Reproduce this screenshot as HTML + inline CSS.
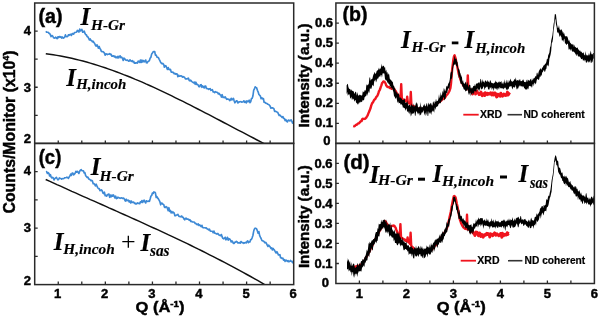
<!DOCTYPE html><html><head><meta charset="utf-8"><style>html,body{margin:0;padding:0;background:#fff;width:600px;height:319px;overflow:hidden}svg{display:block;will-change:transform}</style></head><body>
<svg width="600" height="319" viewBox="0 0 600 319"><style>text{stroke:#000;stroke-width:0.45px;fill:#000}text.s{stroke-width:0.15px}</style>
<polyline fill="none" stroke="#3d89d5" stroke-width="1.65" stroke-linejoin="round"  points="45.9,31.3 46.6,32.2 47.4,32.2 48.1,32.3 48.9,33.3 49.6,33.3 50.4,34.9 51.1,36.6 51.9,35.5 52.6,35.9 53.4,37.5 54.1,38.0 54.9,38.1 55.6,37.2 56.4,38.0 57.1,38.6 57.9,36.8 58.6,37.6 59.4,36.5 60.1,37.2 60.9,36.7 61.6,38.1 62.4,37.0 63.1,38.2 63.9,37.8 64.7,37.2 65.4,34.9 66.2,36.5 66.9,36.7 67.7,36.5 68.4,34.8 69.2,35.3 69.9,34.5 70.7,34.3 71.4,35.5 72.2,33.5 72.9,33.8 73.7,34.2 74.4,32.5 75.2,32.5 75.9,32.3 76.7,31.9 77.4,30.4 78.2,31.2 78.9,32.1 79.7,29.1 80.4,31.0 81.2,30.2 81.9,29.4 82.7,32.2 83.4,31.9 84.2,31.1 84.9,33.3 85.7,34.6 86.4,34.8 87.2,36.6 87.9,36.8 88.7,38.4 89.4,40.0 90.2,38.9 90.9,40.5 91.7,40.6 92.4,41.8 93.2,41.3 93.9,42.5 94.7,43.5 95.4,45.2 96.2,46.2 96.9,44.8 97.7,46.1 98.4,48.2 99.2,46.5 99.9,48.6 100.7,49.6 101.4,51.5 102.2,51.7 102.9,51.5 103.7,52.2 104.4,53.1 105.2,55.2 105.9,53.8 106.7,54.0 107.4,54.6 108.2,54.3 108.9,54.2 109.7,53.5 110.4,54.6 111.2,54.4 111.9,56.2 112.7,56.1 113.4,55.8 114.2,56.8 114.9,56.1 115.7,57.7 116.4,57.0 117.2,57.8 117.9,56.3 118.7,57.9 119.4,56.2 120.2,55.9 120.9,57.6 121.7,57.1 122.4,58.3 123.2,60.4 123.9,58.1 124.7,58.7 125.4,59.9 126.2,60.4 126.9,60.0 127.7,60.1 128.4,61.1 129.2,61.1 129.9,59.8 130.7,60.9 131.4,61.3 132.2,60.6 132.9,62.0 133.7,61.3 134.4,63.2 135.2,62.9 135.9,63.1 136.7,62.6 137.4,63.1 138.2,61.1 138.9,61.5 139.7,62.5 140.4,60.1 141.2,62.5 141.9,60.0 142.7,62.0 143.4,60.5 144.2,61.9 144.9,61.4 145.7,60.0 146.4,62.7 147.2,62.9 147.9,61.5 148.7,61.2 149.4,60.4 150.2,58.0 150.9,57.3 151.7,53.9 152.4,53.0 153.2,51.8 153.9,51.6 154.7,51.5 155.4,55.1 156.2,55.1 156.9,57.1 157.7,57.3 158.4,57.7 159.2,59.3 159.9,60.6 160.7,62.5 161.4,63.1 162.2,63.8 162.9,63.4 163.7,64.4 164.4,67.2 165.2,65.7 165.9,65.9 166.7,67.8 167.4,69.4 168.2,67.6 168.9,69.4 169.7,69.7 170.4,69.3 171.2,72.1 171.9,72.0 172.7,72.5 173.4,72.3 174.2,73.8 174.9,73.4 175.7,74.2 176.4,73.8 177.2,74.0 177.9,76.7 178.7,75.3 179.4,76.2 180.2,76.1 180.9,75.8 181.7,76.0 182.4,77.2 183.2,76.6 183.9,77.0 184.7,77.5 185.4,79.0 186.2,78.9 186.9,79.0 187.7,78.5 188.4,78.1 189.2,80.5 189.9,80.9 190.7,80.2 191.4,81.2 192.2,81.8 192.9,82.3 193.7,82.9 194.4,82.1 195.2,84.3 195.9,82.2 196.7,84.4 197.4,84.4 198.2,85.2 198.9,86.6 199.7,86.7 200.4,84.8 201.2,84.7 201.9,87.3 202.7,85.9 203.4,87.0 204.2,88.0 204.9,86.1 205.7,86.0 206.4,88.5 207.2,88.6 207.9,88.7 208.7,89.4 209.4,88.9 210.2,88.7 210.9,90.3 211.7,90.0 212.4,89.7 213.2,92.0 213.9,91.8 214.7,92.6 215.4,91.6 216.2,92.2 216.9,92.3 217.7,92.7 218.4,94.0 219.2,93.4 219.9,94.7 220.7,95.1 221.4,97.1 222.2,94.7 222.9,97.4 223.7,97.2 224.4,97.7 225.2,96.8 225.9,98.0 226.7,99.3 227.4,98.9 228.2,99.3 228.9,99.2 229.7,100.7 230.4,99.9 231.2,98.3 231.9,100.0 232.7,99.2 233.4,98.3 234.2,101.0 234.9,102.8 235.7,101.8 236.4,100.8 237.2,101.1 237.9,103.0 238.7,102.1 239.4,101.9 240.2,101.7 240.9,101.6 241.7,102.2 242.4,102.0 243.2,101.8 243.9,100.8 244.7,102.3 245.4,101.4 246.2,103.0 246.9,100.8 247.7,101.7 248.4,101.6 249.2,100.2 249.9,102.6 250.7,101.7 251.4,98.8 252.2,98.3 252.9,96.1 253.7,90.1 254.4,89.0 255.2,86.8 255.9,87.4 256.6,87.8 257.4,90.3 258.1,91.8 258.9,94.5 259.6,95.2 260.4,96.1 261.1,98.7 261.9,97.8 262.6,98.9 263.4,98.5 264.1,102.3 264.9,102.4 265.6,103.0 266.4,103.4 267.1,103.5 267.9,104.3 268.6,104.5 269.4,105.2 270.1,106.1 270.9,108.1 271.6,107.9 272.4,107.9 273.1,108.1 273.9,108.7 274.6,111.4 275.4,111.2 276.1,111.6 276.9,112.0 277.6,112.2 278.4,113.9 279.1,115.5 279.9,115.1 280.6,115.9 281.4,116.6 282.1,117.5 282.9,116.6 283.6,118.4 284.4,118.5 285.1,120.6 285.9,119.6 286.6,121.1 287.4,122.0 288.1,120.3 288.9,120.1 289.6,120.8 290.4,120.6 291.1,119.8 291.9,121.4 292.6,123.1 293.4,121.3"/>
<polyline fill="none" stroke="#3d89d5" stroke-width="1.65" stroke-linejoin="round"  points="45.9,171.7 46.6,171.6 47.4,173.4 48.1,172.6 48.9,173.3 49.6,176.0 50.4,174.6 51.1,176.9 51.9,177.9 52.6,177.3 53.4,178.1 54.1,180.0 54.9,178.4 55.6,178.1 56.4,177.4 57.1,178.6 57.9,179.9 58.6,179.5 59.4,177.9 60.1,178.2 60.9,178.5 61.6,179.2 62.4,178.6 63.1,178.7 63.9,178.5 64.7,177.7 65.4,177.7 66.2,177.7 66.9,177.2 67.7,177.5 68.4,178.4 69.2,176.9 69.9,176.0 70.7,174.1 71.4,175.5 72.2,173.0 72.9,173.1 73.7,174.8 74.4,174.2 75.2,173.1 75.9,171.3 76.7,172.1 77.4,171.4 78.2,172.3 78.9,173.5 79.7,171.3 80.4,170.2 81.2,169.6 81.9,170.6 82.7,170.8 83.4,170.8 84.2,172.9 84.9,172.7 85.7,175.7 86.4,176.5 87.2,177.5 87.9,177.1 88.7,178.9 89.4,179.2 90.2,179.8 90.9,180.6 91.7,180.4 92.4,181.0 93.2,183.7 93.9,183.5 94.7,184.5 95.4,185.9 96.2,184.2 96.9,185.9 97.7,187.6 98.4,188.6 99.2,188.6 99.9,190.6 100.7,190.5 101.4,189.9 102.2,190.8 102.9,193.1 103.7,193.6 104.4,192.2 105.2,195.7 105.9,195.3 106.7,196.1 107.4,194.6 108.2,194.7 108.9,194.0 109.7,197.3 110.4,195.0 111.2,196.8 111.9,195.1 112.7,196.2 113.4,194.9 114.2,196.4 114.9,197.9 115.7,196.2 116.4,198.6 117.2,198.2 117.9,197.1 118.7,197.8 119.4,197.9 120.2,198.3 120.9,198.0 121.7,197.8 122.4,198.4 123.2,198.1 123.9,198.3 124.7,199.8 125.4,201.1 126.2,199.2 126.9,200.7 127.7,200.3 128.4,200.2 129.2,202.0 129.9,200.9 130.7,202.9 131.4,201.1 132.2,202.5 132.9,202.2 133.7,202.0 134.4,203.5 135.2,203.1 135.9,204.1 136.7,203.7 137.4,202.8 138.2,203.4 138.9,203.2 139.7,203.7 140.4,201.8 141.2,202.3 141.9,200.6 142.7,202.5 143.4,200.9 144.2,200.2 144.9,201.8 145.7,203.0 146.4,200.8 147.2,201.2 147.9,201.5 148.7,201.0 149.4,201.4 150.2,198.8 150.9,196.2 151.7,195.5 152.4,193.0 153.2,193.5 153.9,191.9 154.7,192.2 155.4,192.9 156.2,197.5 156.9,196.6 157.7,198.1 158.4,198.9 159.2,200.3 159.9,201.7 160.7,204.8 161.4,203.1 162.2,203.3 162.9,204.3 163.7,204.5 164.4,207.0 165.2,207.6 165.9,206.6 166.7,206.9 167.4,208.4 168.2,210.7 168.9,207.7 169.7,211.4 170.4,210.5 171.2,213.0 171.9,211.6 172.7,212.8 173.4,212.2 174.2,213.1 174.9,215.7 175.7,215.7 176.4,215.0 177.2,215.0 177.9,214.4 178.7,216.0 179.4,216.5 180.2,216.6 180.9,216.8 181.7,216.0 182.4,217.2 183.2,217.4 183.9,218.9 184.7,219.8 185.4,218.4 186.2,218.2 186.9,219.2 187.7,219.0 188.4,219.3 189.2,220.2 189.9,219.7 190.7,221.5 191.4,221.2 192.2,221.9 192.9,222.0 193.7,222.0 194.4,222.3 195.2,223.4 195.9,223.4 196.7,224.5 197.4,224.6 198.2,223.8 198.9,225.5 199.7,224.8 200.4,225.9 201.2,226.6 201.9,225.3 202.7,227.5 203.4,227.8 204.2,227.7 204.9,227.8 205.7,228.1 206.4,227.9 207.2,228.9 207.9,229.1 208.7,230.0 209.4,229.2 210.2,230.9 210.9,231.2 211.7,231.3 212.4,231.4 213.2,232.7 213.9,231.0 214.7,233.2 215.4,233.3 216.2,233.7 216.9,234.1 217.7,233.5 218.4,234.1 219.2,235.3 219.9,235.4 220.7,235.6 221.4,234.5 222.2,237.0 222.9,238.3 223.7,238.8 224.4,238.5 225.2,237.3 225.9,239.8 226.7,239.1 227.4,237.3 228.2,240.1 228.9,238.7 229.7,239.1 230.4,240.0 231.2,242.0 231.9,240.9 232.7,241.8 233.4,243.4 234.2,243.5 234.9,242.1 235.7,242.1 236.4,241.3 237.2,241.9 237.9,243.0 238.7,242.9 239.4,242.6 240.2,243.2 240.9,241.5 241.7,242.1 242.4,242.8 243.2,242.7 243.9,243.3 244.7,242.8 245.4,242.3 246.2,242.9 246.9,241.6 247.7,240.9 248.4,242.7 249.2,241.9 249.9,241.9 250.7,239.5 251.4,239.5 252.2,237.6 252.9,235.5 253.7,231.1 254.4,229.0 255.2,228.2 255.9,228.3 256.6,228.8 257.4,231.1 258.1,233.2 258.9,231.6 259.6,235.4 260.4,237.2 261.1,238.5 261.9,240.5 262.6,240.9 263.4,241.0 264.1,241.7 264.9,242.8 265.6,242.3 266.4,243.3 267.1,244.8 267.9,246.5 268.6,245.2 269.4,246.0 270.1,246.8 270.9,248.5 271.6,247.9 272.4,249.9 273.1,248.4 273.9,249.7 274.6,250.4 275.4,252.0 276.1,253.0 276.9,251.6 277.6,253.0 278.4,254.9 279.1,254.8 279.9,254.7 280.6,257.7 281.4,257.9 282.1,258.5 282.9,258.2 283.6,260.1 284.4,259.6 285.1,261.4 285.9,260.1 286.6,260.4 287.4,261.4 288.1,260.6 288.9,261.8 289.6,261.4 290.4,260.4 291.1,261.4 291.9,261.2 292.6,262.7 293.4,261.6"/>
<polyline fill="none" stroke="#111" stroke-width="1.45" stroke-linejoin="round" clip-path="url(#ca)" points="45.8,53.8 49.5,54.3 53.2,54.8 56.9,55.4 60.6,56.0 64.3,56.7 68.0,57.5 71.7,58.3 75.5,59.2 79.2,60.1 82.9,61.0 86.6,62.0 90.3,63.1 94.0,64.2 97.7,65.4 101.4,66.6 105.1,67.8 108.8,69.1 112.5,70.4 116.2,71.7 119.9,73.1 123.6,74.6 127.3,76.0 131.1,77.5 134.8,79.1 138.5,80.6 142.2,82.2 145.9,83.9 149.6,85.5 153.3,87.2 157.0,88.9 160.7,90.6 164.4,92.4 168.1,94.2 171.8,95.9 175.5,97.8 179.2,99.6 183.0,101.4 186.7,103.3 190.4,105.2 194.1,107.1 197.8,109.0 201.5,110.9 205.2,112.8 208.9,114.7 212.6,116.7 216.3,118.6 220.0,120.5 223.7,122.5 227.4,124.4 231.1,126.4 234.8,128.3 238.6,130.3 242.3,132.2 246.0,134.2 249.7,136.1 253.4,138.0 257.1,140.0 260.8,141.9 264.5,143.8"/>
<polyline fill="none" stroke="#111" stroke-width="1.45" stroke-linejoin="round" clip-path="url(#cc)" points="45.7,179.5 49.4,181.2 53.2,182.9 56.9,184.6 60.6,186.2 64.3,187.9 68.1,189.6 71.8,191.3 75.5,192.9 79.2,194.6 83.0,196.3 86.7,197.9 90.4,199.6 94.1,201.2 97.9,202.9 101.6,204.5 105.3,206.2 109.0,207.9 112.8,209.5 116.5,211.2 120.2,212.8 123.9,214.5 127.7,216.2 131.4,217.8 135.1,219.5 138.8,221.2 142.6,222.9 146.3,224.6 150.0,226.3 153.7,228.0 157.5,229.7 161.2,231.4 164.9,233.1 168.6,234.9 172.4,236.6 176.1,238.4 179.8,240.1 183.5,241.9 187.3,243.7 191.0,245.5 194.7,247.3 198.4,249.2 202.2,251.0 205.9,252.9 209.6,254.8 213.3,256.6 217.1,258.6 220.8,260.5 224.5,262.4 228.2,264.4 232.0,266.4 235.7,268.3 239.4,270.4 243.1,272.4 246.9,274.5 250.6,276.5 254.3,278.6 258.0,280.7 261.8,282.9 265.5,285.1"/>
<polyline fill="none" stroke="#f0141e" stroke-width="2.4" stroke-linejoin="round"  points="353.2,126.0 353.8,126.2 354.4,126.2 355.0,125.9 355.6,125.1 356.2,124.8 356.8,124.8 357.4,124.1 358.0,123.5 358.6,123.4 359.2,123.1 359.8,122.3 360.4,121.7 361.0,121.2 361.6,121.0 362.2,119.2 362.8,118.8 363.4,118.9 364.0,119.0 364.6,118.7 365.2,118.9 365.8,118.1 366.4,117.5 367.0,116.2 367.6,115.5 368.2,113.9 368.8,112.4 369.4,111.1 370.0,109.5 370.6,108.0 371.2,105.6 371.8,104.1 372.4,102.8 373.0,102.4 373.6,101.0 374.2,99.9 374.8,99.3 375.4,98.9 376.0,97.5 376.6,96.6 377.2,96.1 377.8,94.7 378.4,93.2 379.0,91.2 379.6,90.3 380.2,88.8 380.8,86.9 381.4,85.4 382.0,83.2 382.6,82.7 383.2,81.6 383.8,81.4 384.4,81.8 385.0,82.5 385.6,83.5 386.2,85.4 386.8,86.2 387.4,86.8 388.0,87.0 388.6,87.3 389.2,87.0 389.8,88.0 390.4,87.9 391.0,88.3 391.6,88.7 392.2,88.3 392.8,88.0 393.4,88.4 394.0,88.7 394.6,89.6 395.2,90.6 395.8,91.1 396.4,92.7 397.0,93.3 397.6,94.6 398.2,95.2 398.8,95.7 399.4,96.3 400.0,96.7 400.6,97.1 401.2,84.1 401.8,98.1 402.4,99.0 403.0,99.5 403.6,99.8 404.2,100.0 404.8,100.1 405.4,101.0 406.0,101.0 406.6,101.4 407.2,96.6 407.8,102.2 408.4,102.5 409.0,103.1 409.6,103.3 410.2,104.0 410.8,92.0 411.4,105.0 412.0,105.3 412.6,105.9 413.2,106.3 413.8,106.2 414.4,106.7 415.0,107.4 415.6,107.6 416.2,107.9 416.8,108.5 417.4,108.2 418.0,108.6 418.6,108.7 419.2,109.3 419.8,108.5 420.4,108.8 421.0,108.9 421.6,109.2 422.2,109.1 422.8,109.3 423.4,108.5 424.0,109.1 424.6,108.8 425.2,108.7 425.8,109.0 426.4,108.6 427.0,108.2 427.6,108.6 428.2,108.3 428.8,108.4 429.4,108.7 430.0,108.6 430.6,108.8 431.2,108.1 431.8,107.5 432.4,107.3 433.0,106.8 433.6,106.2 434.2,106.1 434.8,105.3 435.4,104.4 436.0,104.5 436.6,103.8 437.2,103.4 437.8,102.9 438.4,102.6 439.0,102.1 439.6,101.9 440.2,101.3 440.8,100.9 441.4,100.5 442.0,99.5 442.6,99.4 443.2,98.9 443.8,98.5 444.4,97.5 445.0,97.7 445.6,96.7 446.2,95.7 446.8,94.8 447.4,94.4 448.0,93.6 448.6,92.5 449.2,91.5 449.8,89.8 450.4,88.2 451.0,83.7 451.6,76.3 452.2,69.0 452.8,64.5 453.4,59.4 454.0,56.4 454.6,55.3 455.2,57.1 455.8,59.4 456.4,62.4 457.0,65.3 457.6,68.2 458.2,71.3 458.8,74.2 459.4,75.8 460.0,77.8 460.6,79.8 461.2,81.5 461.8,82.8 462.4,83.6 463.0,84.9 463.6,86.0 464.2,86.6 464.8,87.0 465.4,87.3 466.0,88.2 466.6,88.2 467.2,88.4 467.8,75.4 468.4,89.6 469.0,89.6 469.6,90.1 470.2,89.6 470.8,91.4 471.4,90.0"/>
<polyline fill="none" stroke="#f0141e" stroke-width="2.9" stroke-linejoin="round"  points="470.2,89.6 470.8,91.4 471.4,90.0 472.0,90.9 472.6,94.1 473.2,92.5 473.8,91.4 474.4,92.1 475.0,92.8 475.6,94.0 476.2,92.2 476.8,90.9 477.4,92.6 478.0,93.0 478.6,93.2 479.2,94.6 479.8,93.6 480.4,94.2 481.0,92.1 481.6,94.4 482.2,95.7 482.8,94.3 483.4,93.8 484.0,93.7 484.6,95.6 485.2,92.6 485.8,93.6 486.4,94.2 487.0,94.6 487.6,93.3 488.2,94.2 488.8,93.6 489.4,94.0 490.0,93.8 490.6,92.7 491.2,94.0 491.8,95.0 492.4,93.0 493.0,93.9 493.6,94.9 494.2,93.0 494.8,94.5 495.4,93.1 496.0,95.6 496.6,96.9 497.2,96.6 497.8,94.2 498.4,95.3 499.0,94.6 499.6,94.6 500.2,96.3 500.8,93.1 501.4,95.8 502.0,94.6 502.6,96.2 503.2,94.9 503.8,93.9 504.4,95.0 505.0,95.5 505.6,94.7 506.2,95.2 506.8,94.1 507.4,92.1 508.0,95.1 508.6,94.3 509.2,93.2 509.8,92.5"/>
<polyline fill="none" stroke="#f0141e" stroke-width="2.4" stroke-linejoin="round"  points="350.6,267.8 351.2,267.4 351.8,267.3 352.4,267.4 353.0,267.6 353.6,266.9 354.2,267.4 354.8,266.8 355.4,266.5 356.0,267.0 356.6,266.4 357.2,265.9 357.8,265.9 358.4,266.0 359.0,265.8 359.6,265.2 360.2,265.1 360.8,264.9 361.4,264.2 362.0,264.0 362.6,263.3 363.2,262.4 363.8,261.5 364.4,260.7 365.0,259.6 365.6,258.4 366.2,257.2 366.8,256.5 367.4,255.1 368.0,254.2 368.6,253.2 369.2,251.9 369.8,251.1 370.4,249.1 371.0,248.3 371.6,246.7 372.2,245.9 372.8,244.6 373.4,242.4 374.0,241.4 374.6,240.6 375.2,239.4 375.8,238.2 376.4,236.9 377.0,235.9 377.6,234.8 378.2,233.6 378.8,232.7 379.4,230.8 380.0,230.5 380.6,229.0 381.2,228.4 381.8,227.0 382.4,225.8 383.0,224.8 383.6,223.1 384.2,221.8 384.8,221.0 385.4,221.4 386.0,222.1 386.6,223.1 387.2,223.9 387.8,225.2 388.4,225.8 389.0,226.4 389.6,226.6 390.2,226.7 390.8,226.2 391.4,226.1 392.0,226.0 392.6,225.9 393.2,225.5 393.8,226.0 394.4,225.8 395.0,226.8 395.6,227.7 396.2,229.5 396.8,231.1 397.4,232.3 398.0,234.0 398.6,234.4 399.2,235.5 399.8,236.0 400.4,224.1 401.0,236.9 401.6,237.7 402.2,238.1 402.8,238.6 403.4,239.0 404.0,239.1 404.6,240.0 405.2,239.8 405.8,240.8 406.4,240.8 407.0,241.2 407.6,237.4 408.2,242.2 408.8,242.4 409.4,242.9 410.0,243.8 410.6,232.7 411.2,245.4 411.8,246.8 412.4,246.8 413.0,247.9 413.6,248.0 414.2,248.9 414.8,249.3 415.4,249.9 416.0,250.5 416.6,251.3 417.2,251.4 417.8,251.8 418.4,251.8 419.0,252.5 419.6,252.4 420.2,252.7 420.8,252.5 421.4,252.9 422.0,251.9 422.6,252.3 423.2,252.5 423.8,252.1 424.4,251.9 425.0,251.9 425.6,251.4 426.2,251.7 426.8,252.1 427.4,251.6 428.0,250.9 428.6,250.7 429.2,250.7 429.8,250.8 430.4,250.1 431.0,249.8 431.6,249.8 432.2,249.3 432.8,248.4 433.4,247.6 434.0,246.8 434.6,246.3 435.2,245.1 435.8,245.1 436.4,243.9 437.0,243.3 437.6,242.8 438.2,241.7 438.8,240.3 439.4,239.9 440.0,239.2 440.6,237.9 441.2,237.1 441.8,236.6 442.4,235.4 443.0,235.4 443.6,233.6 444.2,233.1 444.8,232.3 445.4,231.3 446.0,230.3 446.6,229.0 447.2,227.4 447.8,225.8 448.4,222.4 449.0,220.1 449.6,217.0 450.2,214.4 450.8,211.7 451.4,208.2 452.0,204.8 452.6,201.7 453.2,198.7 453.8,196.3 454.4,196.0 455.0,196.6 455.6,197.5 456.2,200.5 456.8,203.8 457.4,206.1 458.0,209.4 458.6,213.0 459.2,216.4 459.8,219.3 460.4,221.0 461.0,223.0 461.6,224.2 462.2,225.5 462.8,226.4 463.4,227.5 464.0,227.8 464.6,228.3 465.2,228.8 465.8,228.9 466.4,229.1 467.0,214.8 467.6,229.2 468.2,229.3 468.8,229.5 469.4,229.9 470.0,228.8 470.6,231.8 471.2,230.9 471.8,230.6"/>
<polyline fill="none" stroke="#f0141e" stroke-width="2.9" stroke-linejoin="round"  points="470.0,228.8 470.6,231.8 471.2,230.9 471.8,230.6 472.4,231.6 473.0,232.0 473.6,233.5 474.2,233.1 474.8,235.5 475.4,233.6 476.0,232.0 476.6,233.7 477.2,232.3 477.8,234.5 478.4,235.7 479.0,235.2 479.6,233.0 480.2,233.7 480.8,236.5 481.4,234.9 482.0,234.5 482.6,235.7 483.2,237.2 483.8,235.9 484.4,234.7 485.0,234.9 485.6,235.2 486.2,233.8 486.8,233.3 487.4,234.6 488.0,233.5 488.6,234.4 489.2,234.6 489.8,237.1 490.4,233.6 491.0,234.4 491.6,234.3 492.2,235.0 492.8,235.7 493.4,234.0 494.0,233.6 494.6,232.8 495.2,233.7 495.8,235.3 496.4,234.9 497.0,233.8 497.6,234.6 498.2,235.2 498.8,235.8 499.4,234.7 500.0,235.1 500.6,233.4 501.2,234.2 501.8,237.3 502.4,233.1 503.0,235.1 503.6,235.7 504.2,234.9 504.8,234.4 505.4,235.1 506.0,235.0 506.6,234.8 507.2,232.7 507.8,234.4 508.4,233.4 509.0,233.6"/>
<polygon fill="#000" points="346.6,85.4 347.2,84.3 347.8,83.7 348.4,87.0 349.0,88.4 349.6,89.1 350.2,89.0 350.8,90.8 351.4,89.2 352.0,90.9 352.6,90.7 353.2,91.0 353.8,91.7 354.4,94.0 355.0,92.4 355.6,91.6 356.2,92.5 356.8,95.8 357.4,92.0 358.0,95.0 358.6,95.8 359.2,95.2 359.8,94.5 360.4,95.1 361.0,95.4 361.6,95.4 362.2,95.3 362.8,91.2 363.4,91.7 364.0,92.4 364.6,90.2 365.2,90.2 365.8,90.7 366.4,83.9 367.0,85.8 367.6,84.8 368.2,84.8 368.8,83.4 369.4,78.1 370.0,77.1 370.6,80.8 371.2,79.4 371.8,79.0 372.4,78.8 373.0,75.9 373.6,74.3 374.2,73.3 374.8,71.8 375.4,74.1 376.0,73.4 376.6,71.2 377.2,70.2 377.8,70.5 378.4,69.2 379.0,67.4 379.6,69.8 380.2,68.6 380.8,68.4 381.4,63.5 382.0,67.4 382.6,65.8 383.2,66.1 383.8,65.5 384.4,68.1 385.0,66.5 385.6,71.6 386.2,69.6 386.8,72.8 387.4,72.0 388.0,75.2 388.6,73.3 389.2,74.4 389.8,78.8 390.4,79.6 391.0,79.9 391.6,80.8 392.2,81.8 392.8,81.8 393.4,85.5 394.0,85.8 394.6,87.7 395.2,88.8 395.8,91.8 396.4,91.4 397.0,93.3 397.6,93.5 398.2,94.3 398.8,92.9 399.4,96.8 400.0,98.1 400.6,97.2 401.2,98.1 401.8,99.0 402.4,99.9 403.0,100.0 403.6,100.1 404.2,97.9 404.8,99.7 405.4,103.0 406.0,102.5 406.6,102.2 407.2,103.5 407.8,100.0 408.4,106.3 409.0,105.1 409.6,104.9 410.2,105.0 410.8,107.0 411.4,103.1 412.0,105.7 412.6,104.9 413.2,106.7 413.8,103.3 414.4,106.5 415.0,106.2 415.6,104.4 416.2,102.0 416.8,103.6 417.4,103.5 418.0,107.0 418.6,107.7 419.2,106.2 419.8,107.6 420.4,102.1 421.0,107.9 421.6,106.3 422.2,107.3 422.8,107.2 423.4,104.4 424.0,106.5 424.6,103.4 425.2,105.7 425.8,106.4 426.4,103.7 427.0,102.9 427.6,106.9 428.2,104.3 428.8,102.5 429.4,104.4 430.0,104.6 430.6,102.8 431.2,103.3 431.8,105.3 432.4,105.8 433.0,101.6 433.6,101.7 434.2,104.3 434.8,101.1 435.4,102.2 436.0,98.5 436.6,101.6 437.2,101.1 437.8,100.7 438.4,98.9 439.0,94.1 439.6,98.5 440.2,96.6 440.8,92.1 441.4,95.7 442.0,94.9 442.6,90.6 443.2,93.0 443.8,88.1 444.4,89.1 445.0,91.6 445.6,90.2 446.2,87.1 446.8,85.7 447.4,86.8 448.0,84.4 448.6,83.0 449.2,82.3 449.8,79.3 450.4,73.7 451.0,71.4 451.6,71.9 452.2,67.4 452.8,64.2 453.4,61.6 454.0,59.4 454.6,55.3 455.2,58.2 455.8,59.2 456.4,58.4 457.0,61.6 457.6,62.5 458.2,68.3 458.8,68.7 459.4,69.7 460.0,72.4 460.6,73.7 461.2,77.4 461.8,74.8 462.4,82.1 463.0,80.0 463.6,82.9 464.2,83.8 464.8,83.5 465.4,82.3 466.0,81.6 466.6,85.4 467.2,81.6 467.8,84.1 468.4,87.6 469.0,84.4 469.6,85.1 470.2,85.0 470.8,88.5 471.4,88.6 472.0,87.1 472.6,88.5 473.2,85.8 473.8,86.3 474.4,86.1 475.0,83.6 475.6,86.4 476.2,83.5 476.8,83.4 477.4,83.4 478.0,83.1 478.6,82.4 479.2,81.9 479.8,83.7 480.4,78.8 481.0,79.2 481.6,83.5 482.2,78.9 482.8,81.8 483.4,82.1 484.0,80.5 484.6,83.3 485.2,80.6 485.8,80.5 486.4,81.4 487.0,82.3 487.6,79.7 488.2,82.0 488.8,81.3 489.4,83.1 490.0,80.3 490.6,80.6 491.2,82.5 491.8,83.0 492.4,83.0 493.0,83.5 493.6,83.5 494.2,82.6 494.8,83.1 495.4,80.2 496.0,82.5 496.6,81.4 497.2,83.1 497.8,82.4 498.4,81.4 499.0,82.9 499.6,81.3 500.2,82.3 500.8,81.8 501.4,80.9 502.0,84.3 502.6,83.0 503.2,81.5 503.8,84.4 504.4,79.1 505.0,83.5 505.6,82.9 506.2,79.6 506.8,82.5 507.4,82.8 508.0,79.4 508.6,83.0 509.2,81.5 509.8,80.5 510.4,78.4 511.0,80.4 511.6,81.2 512.2,81.7 512.8,81.6 513.4,80.9 514.0,80.2 514.6,78.8 515.2,79.9 515.8,77.3 516.4,80.9 517.0,80.2 517.6,80.2 518.2,79.7 518.8,81.1 519.4,80.0 520.0,78.7 520.6,81.2 521.2,81.0 521.8,81.2 522.4,79.4 523.0,81.3 523.6,78.9 524.2,82.1 524.8,81.9 525.4,81.8 526.0,82.4 526.6,80.1 527.2,79.5 527.8,82.1 528.4,79.8 529.0,80.3 529.6,81.1 530.2,79.6 530.8,78.7 531.4,81.4 532.0,78.0 532.6,80.6 533.2,79.2 533.8,77.9 534.4,78.2 535.0,77.1 535.6,76.0 536.2,76.6 536.8,72.7 537.4,72.7 538.0,75.2 538.6,71.9 539.2,70.5 539.8,69.4 540.4,68.0 541.0,69.5 541.6,69.5 542.2,67.3 542.8,67.8 543.4,65.4 544.0,65.5 544.6,64.8 545.2,63.7 545.8,63.4 546.4,61.7 547.0,58.4 547.6,59.4 548.2,55.3 548.8,54.0 549.4,52.4 550.0,47.4 550.6,46.1 551.2,40.5 551.8,38.1 552.4,35.3 553.0,30.0 553.6,24.0 554.2,21.0 554.8,14.2 555.4,14.1 556.0,14.8 556.6,20.4 557.2,25.1 557.8,28.0 558.4,27.7 559.0,24.9 559.6,29.4 560.2,29.4 560.8,30.5 561.4,29.1 562.0,30.5 562.6,31.8 563.2,34.2 563.8,31.8 564.4,33.9 565.0,36.3 565.6,36.2 566.2,36.6 566.8,36.1 567.4,36.7 568.0,38.4 568.6,40.9 569.2,40.0 569.8,41.9 570.4,43.0 571.0,43.4 571.6,44.5 572.2,43.7 572.8,45.1 573.4,44.2 574.0,47.4 574.6,44.6 575.2,47.5 575.8,46.7 576.4,48.0 577.0,47.9 577.6,47.3 578.2,49.5 578.8,49.6 579.4,51.2 580.0,49.9 580.6,51.7 581.2,51.6 581.8,52.2 582.4,53.0 583.0,53.3 583.6,52.1 584.2,55.2 584.8,55.1 585.4,51.0 586.0,56.0 586.6,54.6 587.2,55.0 587.8,55.8 588.4,55.3 589.0,52.7 589.6,55.8 590.2,52.9 590.8,50.6 591.4,54.1 592.0,54.5 592.6,54.3 593.2,53.1 593.8,53.1 593.8,59.1 593.2,58.2 592.6,61.5 592.0,62.5 591.4,63.1 590.8,59.5 590.2,63.0 589.6,62.0 589.0,60.9 588.4,63.1 587.8,60.6 587.2,62.2 586.6,62.6 586.0,62.8 585.4,60.2 584.8,59.6 584.2,61.5 583.6,60.0 583.0,60.7 582.4,58.4 581.8,59.1 581.2,59.2 580.6,57.8 580.0,57.1 579.4,56.4 578.8,55.9 578.2,57.1 577.6,55.1 577.0,53.7 576.4,56.2 575.8,54.6 575.2,53.6 574.6,52.5 574.0,52.1 573.4,51.4 572.8,51.3 572.2,51.9 571.6,49.9 571.0,48.4 570.4,50.9 569.8,48.5 569.2,49.7 568.6,49.4 568.0,44.3 567.4,43.5 566.8,44.6 566.2,44.9 565.6,43.3 565.0,43.7 564.4,38.6 563.8,39.7 563.2,42.0 562.6,39.8 562.0,41.0 561.4,36.9 560.8,36.3 560.2,35.1 559.6,37.3 559.0,34.3 558.4,32.6 557.8,32.6 557.2,32.6 556.6,26.7 556.0,24.4 555.4,18.5 554.8,20.9 554.2,26.8 553.6,30.3 553.0,38.4 552.4,42.2 551.8,42.8 551.2,51.1 550.6,54.4 550.0,57.0 549.4,58.8 548.8,65.0 548.2,66.4 547.6,65.6 547.0,64.4 546.4,68.8 545.8,69.3 545.2,71.4 544.6,71.9 544.0,70.1 543.4,70.4 542.8,72.0 542.2,72.4 541.6,76.1 541.0,75.0 540.4,77.0 539.8,76.5 539.2,79.3 538.6,79.9 538.0,79.5 537.4,78.8 536.8,79.7 536.2,82.9 535.6,84.5 535.0,82.7 534.4,82.8 533.8,86.4 533.2,83.4 532.6,84.7 532.0,88.1 531.4,86.4 530.8,86.0 530.2,86.5 529.6,85.9 529.0,85.8 528.4,89.0 527.8,89.6 527.2,88.1 526.6,89.7 526.0,89.5 525.4,89.6 524.8,88.5 524.2,88.2 523.6,85.9 523.0,87.5 522.4,86.2 521.8,86.1 521.2,86.7 520.6,85.3 520.0,86.9 519.4,85.2 518.8,86.6 518.2,88.5 517.6,88.3 517.0,89.8 516.4,88.6 515.8,84.7 515.2,87.0 514.6,87.6 514.0,87.4 513.4,86.7 512.8,88.3 512.2,89.5 511.6,86.5 511.0,86.0 510.4,86.4 509.8,86.6 509.2,86.8 508.6,89.6 508.0,88.4 507.4,89.9 506.8,90.1 506.2,89.2 505.6,87.3 505.0,88.8 504.4,87.5 503.8,88.6 503.2,89.4 502.6,88.1 502.0,88.7 501.4,88.0 500.8,88.5 500.2,87.7 499.6,87.0 499.0,89.8 498.4,87.6 497.8,90.6 497.2,87.7 496.6,90.0 496.0,87.8 495.4,89.2 494.8,87.6 494.2,88.8 493.6,91.2 493.0,87.7 492.4,88.6 491.8,90.0 491.2,87.0 490.6,88.5 490.0,86.7 489.4,89.8 488.8,88.9 488.2,90.0 487.6,86.3 487.0,87.4 486.4,86.5 485.8,87.4 485.2,88.0 484.6,90.2 484.0,87.1 483.4,86.2 482.8,88.8 482.2,88.4 481.6,89.7 481.0,88.5 480.4,86.5 479.8,91.5 479.2,88.9 478.6,89.6 478.0,91.0 477.4,88.2 476.8,89.0 476.2,92.4 475.6,91.2 475.0,91.2 474.4,91.0 473.8,94.8 473.2,92.4 472.6,93.0 472.0,94.8 471.4,93.4 470.8,96.6 470.2,91.3 469.6,95.2 469.0,92.6 468.4,95.3 467.8,88.6 467.2,90.8 466.6,90.7 466.0,90.8 465.4,91.8 464.8,89.2 464.2,89.9 463.6,88.9 463.0,86.8 462.4,86.6 461.8,83.7 461.2,84.0 460.6,83.7 460.0,81.1 459.4,76.2 458.8,78.2 458.2,72.6 457.6,69.0 457.0,66.3 456.4,66.0 455.8,64.9 455.2,63.5 454.6,64.7 454.0,64.9 453.4,66.1 452.8,70.2 452.2,76.9 451.6,79.5 451.0,78.4 450.4,81.4 449.8,86.4 449.2,89.9 448.6,88.1 448.0,89.0 447.4,91.9 446.8,93.8 446.2,92.4 445.6,98.3 445.0,99.4 444.4,100.5 443.8,97.0 443.2,97.7 442.6,99.9 442.0,101.0 441.4,100.3 440.8,103.7 440.2,102.6 439.6,103.3 439.0,103.4 438.4,104.4 437.8,106.8 437.2,106.1 436.6,106.9 436.0,107.3 435.4,109.9 434.8,107.2 434.2,112.8 433.6,111.6 433.0,110.2 432.4,111.6 431.8,111.8 431.2,115.1 430.6,113.3 430.0,112.0 429.4,114.0 428.8,111.1 428.2,115.9 427.6,116.0 427.0,110.8 426.4,115.4 425.8,112.2 425.2,116.1 424.6,114.4 424.0,112.9 423.4,110.1 422.8,111.9 422.2,112.7 421.6,112.5 421.0,115.0 420.4,115.3 419.8,112.8 419.2,115.9 418.6,112.4 418.0,114.5 417.4,112.7 416.8,112.1 416.2,110.7 415.6,115.4 415.0,115.9 414.4,111.2 413.8,113.9 413.2,112.7 412.6,114.2 412.0,113.0 411.4,115.3 410.8,116.4 410.2,111.9 409.6,114.6 409.0,110.4 408.4,113.4 407.8,111.0 407.2,112.2 406.6,108.6 406.0,108.7 405.4,110.9 404.8,107.9 404.2,108.2 403.6,107.2 403.0,107.9 402.4,105.4 401.8,104.4 401.2,104.2 400.6,104.8 400.0,103.0 399.4,103.0 398.8,103.4 398.2,101.3 397.6,102.9 397.0,100.2 396.4,97.0 395.8,99.0 395.2,98.0 394.6,96.8 394.0,96.1 393.4,92.1 392.8,90.3 392.2,88.3 391.6,87.6 391.0,89.2 390.4,86.1 389.8,85.8 389.2,83.9 388.6,84.1 388.0,82.2 387.4,82.9 386.8,80.0 386.2,81.0 385.6,80.0 385.0,79.0 384.4,73.7 383.8,73.1 383.2,73.7 382.6,73.3 382.0,77.8 381.4,75.1 380.8,74.8 380.2,76.7 379.6,76.6 379.0,76.4 378.4,78.0 377.8,79.4 377.2,78.1 376.6,81.0 376.0,82.6 375.4,79.5 374.8,80.6 374.2,81.6 373.6,86.6 373.0,85.4 372.4,84.7 371.8,87.3 371.2,89.1 370.6,89.0 370.0,87.5 369.4,92.5 368.8,92.9 368.2,90.8 367.6,96.0 367.0,93.3 366.4,95.4 365.8,96.3 365.2,96.5 364.6,97.3 364.0,100.5 363.4,100.2 362.8,99.7 362.2,101.4 361.6,102.2 361.0,101.5 360.4,101.9 359.8,103.6 359.2,101.8 358.6,103.4 358.0,104.8 357.4,104.1 356.8,102.4 356.2,103.4 355.6,99.9 355.0,100.3 354.4,101.8 353.8,99.6 353.2,98.7 352.6,98.5 352.0,100.6 351.4,96.6 350.8,98.6 350.2,98.2 349.6,94.8 349.0,94.0 348.4,94.7 347.8,95.7 347.2,91.8 346.6,94.5"/>
<polygon fill="#000" points="347.0,257.4 347.6,262.0 348.2,259.0 348.8,260.6 349.4,263.0 350.0,260.4 350.6,265.9 351.2,262.0 351.8,266.0 352.4,265.5 353.0,264.1 353.6,263.5 354.2,264.0 354.8,267.5 355.4,268.1 356.0,266.8 356.6,267.1 357.2,262.7 357.8,264.5 358.4,265.8 359.0,264.7 359.6,262.4 360.2,265.2 360.8,261.7 361.4,261.1 362.0,261.1 362.6,259.1 363.2,259.6 363.8,259.7 364.4,257.4 365.0,256.4 365.6,255.4 366.2,253.1 366.8,249.5 367.4,251.4 368.0,248.5 368.6,242.9 369.2,244.0 369.8,241.4 370.4,243.2 371.0,242.5 371.6,240.4 372.2,240.5 372.8,240.1 373.4,238.9 374.0,239.0 374.6,238.1 375.2,234.3 375.8,232.2 376.4,232.0 377.0,232.1 377.6,228.0 378.2,229.1 378.8,223.6 379.4,224.5 380.0,223.9 380.6,223.9 381.2,219.5 381.8,222.2 382.4,222.1 383.0,219.6 383.6,220.6 384.2,219.2 384.8,220.0 385.4,222.6 386.0,219.2 386.6,222.2 387.2,226.0 387.8,223.1 388.4,224.8 389.0,224.3 389.6,224.7 390.2,222.3 390.8,228.7 391.4,224.1 392.0,228.5 392.6,230.2 393.2,230.8 393.8,231.9 394.4,229.2 395.0,232.2 395.6,234.3 396.2,231.9 396.8,234.3 397.4,231.9 398.0,234.4 398.6,233.2 399.2,232.7 399.8,236.4 400.4,237.0 401.0,238.2 401.6,239.5 402.2,240.6 402.8,236.6 403.4,242.0 404.0,240.4 404.6,242.5 405.2,242.8 405.8,242.9 406.4,241.3 407.0,245.4 407.6,245.6 408.2,244.9 408.8,245.8 409.4,247.8 410.0,246.5 410.6,247.2 411.2,245.5 411.8,247.6 412.4,247.8 413.0,248.3 413.6,249.7 414.2,248.3 414.8,247.3 415.4,249.1 416.0,245.3 416.6,248.6 417.2,248.2 417.8,247.5 418.4,246.1 419.0,246.5 419.6,249.0 420.2,245.6 420.8,249.1 421.4,247.8 422.0,246.0 422.6,249.1 423.2,248.1 423.8,250.1 424.4,248.4 425.0,248.6 425.6,248.8 426.2,248.0 426.8,245.3 427.4,247.2 428.0,246.2 428.6,247.4 429.2,247.7 429.8,243.9 430.4,247.8 431.0,242.8 431.6,245.0 432.2,245.4 432.8,243.9 433.4,242.5 434.0,242.6 434.6,241.1 435.2,239.0 435.8,240.4 436.4,239.5 437.0,238.4 437.6,238.8 438.2,238.4 438.8,237.6 439.4,234.3 440.0,237.6 440.6,235.3 441.2,232.9 441.8,234.8 442.4,231.1 443.0,232.4 443.6,232.6 444.2,230.2 444.8,228.8 445.4,228.5 446.0,226.6 446.6,221.4 447.2,224.0 447.8,222.6 448.4,218.9 449.0,218.9 449.6,217.8 450.2,214.2 450.8,211.5 451.4,206.1 452.0,205.7 452.6,204.3 453.2,197.3 453.8,196.8 454.4,197.0 455.0,196.4 455.6,198.9 456.2,203.1 456.8,204.0 457.4,206.2 458.0,206.5 458.6,213.2 459.2,209.5 459.8,212.4 460.4,215.8 461.0,216.2 461.6,215.4 462.2,218.0 462.8,219.4 463.4,218.0 464.0,220.4 464.6,220.0 465.2,222.1 465.8,220.4 466.4,222.5 467.0,223.1 467.6,221.4 468.2,225.0 468.8,224.4 469.4,225.5 470.0,224.7 470.6,224.9 471.2,224.1 471.8,226.7 472.4,227.2 473.0,225.0 473.6,223.0 474.2,223.6 474.8,223.7 475.4,222.8 476.0,218.9 476.6,222.1 477.2,220.2 477.8,219.5 478.4,217.2 479.0,219.4 479.6,219.0 480.2,218.0 480.8,218.3 481.4,218.0 482.0,218.4 482.6,217.8 483.2,221.1 483.8,220.3 484.4,219.3 485.0,220.5 485.6,221.4 486.2,218.0 486.8,221.2 487.4,220.5 488.0,219.0 488.6,221.3 489.2,222.6 489.8,221.7 490.4,220.7 491.0,221.9 491.6,218.0 492.2,220.7 492.8,221.6 493.4,219.3 494.0,222.4 494.6,222.6 495.2,219.3 495.8,221.6 496.4,221.3 497.0,221.2 497.6,221.4 498.2,220.4 498.8,222.0 499.4,222.6 500.0,222.0 500.6,222.4 501.2,221.0 501.8,220.7 502.4,220.5 503.0,221.3 503.6,219.2 504.2,221.1 504.8,219.3 505.4,222.2 506.0,220.7 506.6,221.4 507.2,219.3 507.8,220.9 508.4,220.6 509.0,218.2 509.6,220.6 510.2,220.4 510.8,219.0 511.4,220.2 512.0,219.8 512.6,217.1 513.2,221.0 513.8,220.6 514.4,218.2 515.0,220.7 515.6,219.6 516.2,217.5 516.8,218.6 517.4,217.3 518.0,217.7 518.6,216.6 519.2,218.4 519.8,219.4 520.4,216.0 521.0,216.3 521.6,219.7 522.2,219.5 522.8,219.2 523.4,220.4 524.0,218.8 524.6,219.5 525.2,218.7 525.8,220.2 526.4,221.1 527.0,220.5 527.6,222.2 528.2,221.0 528.8,219.5 529.4,220.6 530.0,222.2 530.6,219.6 531.2,217.6 531.8,219.6 532.4,220.5 533.0,220.0 533.6,220.9 534.2,219.4 534.8,217.1 535.4,216.5 536.0,217.3 536.6,213.0 537.2,215.4 537.8,213.7 538.4,213.7 539.0,212.5 539.6,211.3 540.2,207.5 540.8,208.7 541.4,206.8 542.0,206.1 542.6,205.9 543.2,208.3 543.8,204.8 544.4,206.1 545.0,204.7 545.6,205.0 546.2,200.0 546.8,199.1 547.4,200.3 548.0,196.9 548.6,195.4 549.2,196.1 549.8,192.5 550.4,190.1 551.0,185.7 551.6,180.5 552.2,177.2 552.8,174.3 553.4,168.5 554.0,162.0 554.6,158.2 555.2,155.8 555.8,155.2 556.4,157.0 557.0,159.7 557.6,160.9 558.2,161.3 558.8,167.3 559.4,167.8 560.0,167.8 560.6,170.0 561.2,172.2 561.8,173.2 562.4,172.2 563.0,176.0 563.6,176.8 564.2,175.2 564.8,177.2 565.4,175.8 566.0,178.1 566.6,175.5 567.2,178.6 567.8,177.6 568.4,180.0 569.0,182.4 569.6,181.9 570.2,180.8 570.8,183.5 571.4,184.1 572.0,185.4 572.6,185.1 573.2,186.4 573.8,187.4 574.4,185.9 575.0,187.9 575.6,185.8 576.2,187.0 576.8,189.2 577.4,188.6 578.0,191.3 578.6,191.4 579.2,190.0 579.8,191.4 580.4,194.6 581.0,191.9 581.6,194.5 582.2,195.4 582.8,195.5 583.4,195.5 584.0,195.5 584.6,196.6 585.2,197.4 585.8,193.7 586.4,193.1 587.0,197.1 587.6,197.9 588.2,197.4 588.8,199.7 589.4,199.0 590.0,197.3 590.6,199.8 591.2,196.5 591.8,196.8 592.4,197.5 593.0,199.1 593.6,196.2 594.2,195.1 594.2,200.3 593.6,205.4 593.0,203.8 592.4,202.5 591.8,204.8 591.2,204.3 590.6,207.0 590.0,204.5 589.4,204.4 588.8,204.8 588.2,203.9 587.6,202.7 587.0,202.2 586.4,204.8 585.8,202.6 585.2,202.7 584.6,204.2 584.0,201.6 583.4,200.3 582.8,204.0 582.2,203.6 581.6,200.7 581.0,202.4 580.4,199.7 579.8,199.3 579.2,199.7 578.6,196.7 578.0,200.6 577.4,195.8 576.8,195.9 576.2,197.0 575.6,196.0 575.0,193.1 574.4,194.5 573.8,193.5 573.2,192.0 572.6,190.2 572.0,190.9 571.4,189.6 570.8,189.5 570.2,188.4 569.6,187.1 569.0,187.3 568.4,186.9 567.8,186.0 567.2,185.1 566.6,183.6 566.0,186.5 565.4,182.5 564.8,184.3 564.2,183.9 563.6,183.1 563.0,180.9 562.4,180.9 561.8,177.9 561.2,178.4 560.6,176.6 560.0,174.6 559.4,174.6 558.8,172.9 558.2,171.9 557.6,167.2 557.0,164.9 556.4,165.5 555.8,160.0 555.2,161.4 554.6,162.3 554.0,170.0 553.4,175.4 552.8,178.6 552.2,183.4 551.6,191.4 551.0,194.0 550.4,196.8 549.8,197.9 549.2,201.0 548.6,204.4 548.0,206.4 547.4,206.9 546.8,207.6 546.2,211.6 545.6,210.7 545.0,211.1 544.4,211.5 543.8,214.0 543.2,215.6 542.6,212.6 542.0,213.2 541.4,215.2 540.8,219.1 540.2,215.2 539.6,216.0 539.0,219.2 538.4,220.4 537.8,221.2 537.2,222.2 536.6,220.0 536.0,225.9 535.4,223.3 534.8,225.0 534.2,225.2 533.6,229.1 533.0,225.4 532.4,226.3 531.8,226.1 531.2,228.1 530.6,227.9 530.0,228.5 529.4,225.5 528.8,227.4 528.2,228.0 527.6,227.1 527.0,225.9 526.4,226.3 525.8,224.5 525.2,224.6 524.6,224.5 524.0,225.8 523.4,226.0 522.8,223.5 522.2,223.8 521.6,224.5 521.0,223.6 520.4,222.2 519.8,223.6 519.2,224.0 518.6,227.0 518.0,227.6 517.4,225.1 516.8,223.2 516.2,224.5 515.6,225.9 515.0,226.9 514.4,227.0 513.8,228.3 513.2,226.8 512.6,227.8 512.0,225.0 511.4,225.9 510.8,228.1 510.2,228.3 509.6,226.1 509.0,225.1 508.4,225.0 507.8,225.5 507.2,227.4 506.6,226.2 506.0,226.4 505.4,231.0 504.8,228.8 504.2,225.8 503.6,228.8 503.0,226.2 502.4,225.9 501.8,226.7 501.2,227.7 500.6,226.6 500.0,227.3 499.4,227.0 498.8,226.0 498.2,227.8 497.6,227.7 497.0,227.4 496.4,225.9 495.8,226.9 495.2,228.8 494.6,227.1 494.0,226.8 493.4,227.6 492.8,227.2 492.2,227.7 491.6,225.7 491.0,226.6 490.4,226.2 489.8,229.5 489.2,226.6 488.6,226.7 488.0,225.9 487.4,226.3 486.8,225.7 486.2,225.6 485.6,225.8 485.0,225.8 484.4,224.9 483.8,226.4 483.2,228.9 482.6,223.2 482.0,226.0 481.4,224.1 480.8,226.7 480.2,224.0 479.6,225.2 479.0,224.1 478.4,227.4 477.8,223.6 477.2,227.6 476.6,226.2 476.0,226.3 475.4,227.2 474.8,229.3 474.2,228.0 473.6,233.7 473.0,230.7 472.4,234.1 471.8,233.7 471.2,231.4 470.6,234.2 470.0,234.5 469.4,232.8 468.8,231.1 468.2,229.6 467.6,231.9 467.0,227.8 466.4,228.3 465.8,229.0 465.2,227.3 464.6,224.9 464.0,228.2 463.4,224.8 462.8,223.7 462.2,223.4 461.6,220.9 461.0,222.2 460.4,221.1 459.8,218.8 459.2,218.9 458.6,218.7 458.0,214.2 457.4,212.4 456.8,210.3 456.2,209.8 455.6,204.7 455.0,201.6 454.4,201.4 453.8,203.7 453.2,205.2 452.6,210.0 452.0,212.3 451.4,216.2 450.8,217.3 450.2,219.9 449.6,223.0 449.0,227.4 448.4,225.7 447.8,227.7 447.2,232.0 446.6,232.2 446.0,233.2 445.4,234.1 444.8,236.2 444.2,236.1 443.6,239.4 443.0,239.5 442.4,242.6 441.8,242.8 441.2,240.8 440.6,242.9 440.0,242.9 439.4,241.7 438.8,245.1 438.2,244.2 437.6,247.4 437.0,247.6 436.4,244.2 435.8,245.5 435.2,248.1 434.6,249.7 434.0,251.9 433.4,248.3 432.8,250.4 432.2,253.3 431.6,251.6 431.0,253.2 430.4,254.7 429.8,254.1 429.2,254.9 428.6,253.2 428.0,253.9 427.4,257.4 426.8,254.5 426.2,253.9 425.6,256.7 425.0,257.4 424.4,258.1 423.8,258.6 423.2,254.2 422.6,258.2 422.0,257.2 421.4,255.7 420.8,256.4 420.2,254.0 419.6,253.9 419.0,255.3 418.4,257.3 417.8,254.5 417.2,256.0 416.6,256.8 416.0,256.0 415.4,256.5 414.8,253.6 414.2,258.4 413.6,258.4 413.0,257.4 412.4,253.6 411.8,256.7 411.2,253.7 410.6,253.6 410.0,254.4 409.4,253.2 408.8,255.3 408.2,251.1 407.6,251.7 407.0,250.0 406.4,249.7 405.8,248.9 405.2,249.1 404.6,249.7 404.0,250.5 403.4,249.6 402.8,245.7 402.2,245.2 401.6,245.4 401.0,244.6 400.4,246.8 399.8,244.5 399.2,242.8 398.6,243.6 398.0,244.7 397.4,245.5 396.8,244.4 396.2,243.0 395.6,243.0 395.0,243.0 394.4,239.3 393.8,241.6 393.2,237.5 392.6,237.4 392.0,237.7 391.4,236.4 390.8,235.5 390.2,235.4 389.6,236.9 389.0,234.6 388.4,231.7 387.8,231.4 387.2,233.8 386.6,230.9 386.0,233.2 385.4,232.1 384.8,229.2 384.2,227.6 383.6,227.0 383.0,229.1 382.4,227.8 381.8,230.7 381.2,228.5 380.6,231.8 380.0,230.9 379.4,236.5 378.8,236.2 378.2,236.3 377.6,241.0 377.0,240.8 376.4,243.6 375.8,241.2 375.2,242.4 374.6,244.1 374.0,244.7 373.4,245.2 372.8,250.0 372.2,250.5 371.6,247.6 371.0,250.2 370.4,253.0 369.8,252.4 369.2,257.3 368.6,256.0 368.0,255.2 367.4,259.9 366.8,260.9 366.2,260.0 365.6,263.5 365.0,261.8 364.4,267.3 363.8,265.3 363.2,266.5 362.6,267.1 362.0,268.0 361.4,271.4 360.8,271.6 360.2,270.7 359.6,271.7 359.0,270.8 358.4,272.2 357.8,273.7 357.2,277.0 356.6,273.4 356.0,273.9 355.4,273.6 354.8,277.9 354.2,273.8 353.6,277.7 353.0,271.8 352.4,272.5 351.8,275.9 351.2,271.7 350.6,272.5 350.0,270.1 349.4,270.5 348.8,271.6 348.2,268.6 347.6,269.2 347.0,269.4"/>
<defs><clipPath id="ca"><rect x="34" y="3" width="260" height="140.4"/></clipPath><clipPath id="cc"><rect x="34" y="143.4" width="260" height="141.2"/></clipPath></defs>
<rect x="34.7" y="3.0" width="259.00" height="140.40" fill="none" stroke="#2a2a2a" stroke-width="1.5"/>
<rect x="34.7" y="143.4" width="259.00" height="141.20" fill="none" stroke="#2a2a2a" stroke-width="1.5"/>
<rect x="335.9" y="3.0" width="258.50" height="140.40" fill="none" stroke="#2a2a2a" stroke-width="1.5"/>
<rect x="335.9" y="143.4" width="258.50" height="140.10" fill="none" stroke="#2a2a2a" stroke-width="1.5"/>
<path d="M58.25 143.40v-3 M58.25 284.60v-3 M359.40 143.40v-3 M359.40 283.50v-3 M81.79 143.40v-3 M81.79 284.60v-3 M382.90 143.40v-3 M382.90 283.50v-3 M105.34 143.40v-3 M105.34 284.60v-3 M406.40 143.40v-3 M406.40 283.50v-3 M128.88 143.40v-3 M128.88 284.60v-3 M429.90 143.40v-3 M429.90 283.50v-3 M152.43 143.40v-3 M152.43 284.60v-3 M453.40 143.40v-3 M453.40 283.50v-3 M175.97 143.40v-3 M175.97 284.60v-3 M476.90 143.40v-3 M476.90 283.50v-3 M199.52 143.40v-3 M199.52 284.60v-3 M500.40 143.40v-3 M500.40 283.50v-3 M223.06 143.40v-3 M223.06 284.60v-3 M523.90 143.40v-3 M523.90 283.50v-3 M246.61 143.40v-3 M246.61 284.60v-3 M547.40 143.40v-3 M547.40 283.50v-3 M270.15 143.40v-3 M270.15 284.60v-3 M570.90 143.40v-3 M570.90 283.50v-3 M34.70 115.32h3 M34.70 87.24h3 M34.70 59.16h3 M34.70 31.08h3 M34.70 256.36h3 M34.70 228.12h3 M34.70 199.88h3 M34.70 171.64h3 M335.90 123.34h3 M335.90 103.29h3 M335.90 83.23h3 M335.90 63.17h3 M335.90 43.11h3 M335.90 23.06h3 M335.90 263.49h3 M335.90 243.47h3 M335.90 223.46h3 M335.90 203.44h3 M335.90 183.43h3 M335.90 163.41h3" stroke="#2a2a2a" stroke-width="1.3" fill="none"/>
<text x="31" y="35.0" font-size="13" font-family="'Liberation Sans', sans-serif" font-weight="bold" text-anchor="end" >4</text>
<text x="31" y="92" font-size="13" font-family="'Liberation Sans', sans-serif" font-weight="bold" text-anchor="end" >3</text>
<text x="31" y="143.3" font-size="13" font-family="'Liberation Sans', sans-serif" font-weight="bold" text-anchor="end" >2</text>
<text x="31" y="174.9" font-size="13" font-family="'Liberation Sans', sans-serif" font-weight="bold" text-anchor="end" >4</text>
<text x="31" y="231.6" font-size="13" font-family="'Liberation Sans', sans-serif" font-weight="bold" text-anchor="end" >3</text>
<text x="31" y="285.1" font-size="13" font-family="'Liberation Sans', sans-serif" font-weight="bold" text-anchor="end" >2</text>
<text x="330.5" y="145.4" font-size="13" font-family="'Liberation Sans', sans-serif" font-weight="bold" text-anchor="end" >0</text>
<text x="333" y="127.24285714285716" font-size="13" font-family="'Liberation Sans', sans-serif" font-weight="bold" text-anchor="end" >0.1</text>
<text x="333" y="107.1857142857143" font-size="13" font-family="'Liberation Sans', sans-serif" font-weight="bold" text-anchor="end" >0.2</text>
<text x="333" y="87.12857142857143" font-size="13" font-family="'Liberation Sans', sans-serif" font-weight="bold" text-anchor="end" >0.3</text>
<text x="333" y="67.07142857142858" font-size="13" font-family="'Liberation Sans', sans-serif" font-weight="bold" text-anchor="end" >0.4</text>
<text x="333" y="47.01428571428573" font-size="13" font-family="'Liberation Sans', sans-serif" font-weight="bold" text-anchor="end" >0.5</text>
<text x="333" y="26.957142857142863" font-size="13" font-family="'Liberation Sans', sans-serif" font-weight="bold" text-anchor="end" >0.6</text>
<text x="329" y="287.0" font-size="13" font-family="'Liberation Sans', sans-serif" font-weight="bold" text-anchor="end" >0</text>
<text x="332.5" y="268.0857142857143" font-size="13" font-family="'Liberation Sans', sans-serif" font-weight="bold" text-anchor="end" >0.1</text>
<text x="332.5" y="248.07142857142858" font-size="13" font-family="'Liberation Sans', sans-serif" font-weight="bold" text-anchor="end" >0.2</text>
<text x="332.5" y="228.05714285714285" font-size="13" font-family="'Liberation Sans', sans-serif" font-weight="bold" text-anchor="end" >0.3</text>
<text x="332.5" y="208.04285714285714" font-size="13" font-family="'Liberation Sans', sans-serif" font-weight="bold" text-anchor="end" >0.4</text>
<text x="332.5" y="188.02857142857144" font-size="13" font-family="'Liberation Sans', sans-serif" font-weight="bold" text-anchor="end" >0.5</text>
<text x="332.5" y="168.0142857142857" font-size="13" font-family="'Liberation Sans', sans-serif" font-weight="bold" text-anchor="end" >0.6</text>
<text x="57.64545454545455" y="298" font-size="13" font-family="'Liberation Sans', sans-serif" font-weight="bold" text-anchor="middle" >1</text>
<text x="359.4" y="298" font-size="13" font-family="'Liberation Sans', sans-serif" font-weight="bold" text-anchor="middle" >1</text>
<text x="104.73636363636365" y="298" font-size="13" font-family="'Liberation Sans', sans-serif" font-weight="bold" text-anchor="middle" >2</text>
<text x="406.4" y="298" font-size="13" font-family="'Liberation Sans', sans-serif" font-weight="bold" text-anchor="middle" >2</text>
<text x="151.82727272727274" y="298" font-size="13" font-family="'Liberation Sans', sans-serif" font-weight="bold" text-anchor="middle" >3</text>
<text x="453.4" y="298" font-size="13" font-family="'Liberation Sans', sans-serif" font-weight="bold" text-anchor="middle" >3</text>
<text x="198.9181818181818" y="298" font-size="13" font-family="'Liberation Sans', sans-serif" font-weight="bold" text-anchor="middle" >4</text>
<text x="500.4" y="298" font-size="13" font-family="'Liberation Sans', sans-serif" font-weight="bold" text-anchor="middle" >4</text>
<text x="246.00909090909093" y="298" font-size="13" font-family="'Liberation Sans', sans-serif" font-weight="bold" text-anchor="middle" >5</text>
<text x="547.4" y="298" font-size="13" font-family="'Liberation Sans', sans-serif" font-weight="bold" text-anchor="middle" >5</text>
<text x="293.09999999999997" y="298" font-size="13" font-family="'Liberation Sans', sans-serif" font-weight="bold" text-anchor="middle" >6</text>
<text x="594.4" y="298" font-size="13" font-family="'Liberation Sans', sans-serif" font-weight="bold" text-anchor="middle" >6</text>
<text x="135.5" y="311.5" font-size="14.5" font-family="'Liberation Sans', sans-serif" font-weight="bold" text-anchor="start" textLength="49" lengthAdjust="spacingAndGlyphs">Q (Å<tspan font-size="8.5" dy="-5">-1</tspan><tspan dy="5">)</tspan></text>
<text x="436.7" y="311.5" font-size="14.5" font-family="'Liberation Sans', sans-serif" font-weight="bold" text-anchor="start" textLength="49" lengthAdjust="spacingAndGlyphs">Q (Å<tspan font-size="8.5" dy="-5">-1</tspan><tspan dy="5">)</tspan></text>
<text transform="translate(15.0,132) rotate(-90)" font-size="16" font-family="'Liberation Sans', sans-serif" font-weight="bold" text-anchor="middle" textLength="163" lengthAdjust="spacingAndGlyphs">Counts/Monitor (x10<tspan font-size="9" dy="-6.5">4</tspan><tspan dy="6.5">)</tspan></text>
<text transform="translate(309.3,75.5) rotate(-90)" font-size="15.5" font-family="'Liberation Sans', sans-serif" font-weight="bold" text-anchor="middle" textLength="104" lengthAdjust="spacingAndGlyphs">Intensity (a.u.)</text>
<text transform="translate(309.1,216.6) rotate(-90)" font-size="15.5" font-family="'Liberation Sans', sans-serif" font-weight="bold" text-anchor="middle" textLength="103" lengthAdjust="spacingAndGlyphs">Intensity (a.u.)</text>
<text x="38.5" y="23" font-size="20.5" font-family="'Liberation Sans', sans-serif" font-weight="bold" text-anchor="start" textLength="24" lengthAdjust="spacingAndGlyphs">(a)</text>
<text x="38.7" y="164" font-size="20.5" font-family="'Liberation Sans', sans-serif" font-weight="bold" text-anchor="start" textLength="22.6" lengthAdjust="spacingAndGlyphs">(c)</text>
<text x="342.5" y="21.2" font-size="20.5" font-family="'Liberation Sans', sans-serif" font-weight="bold" text-anchor="start" textLength="25" lengthAdjust="spacingAndGlyphs">(b)</text>
<text x="343.5" y="169" font-size="20.5" font-family="'Liberation Sans', sans-serif" font-weight="bold" text-anchor="start" >(d)</text>
<text class="s" x="80.5" y="25" font-size="25" font-family="'Liberation Serif', serif" font-weight="bold" font-style="italic" >I</text>
<text class="s" x="91" y="30.2" font-size="14" font-family="'Liberation Serif', serif" font-weight="bold" font-style="italic" textLength="34" lengthAdjust="spacingAndGlyphs">H-Gr</text>
<text class="s" x="66.3" y="86" font-size="25" font-family="'Liberation Serif', serif" font-weight="bold" font-style="italic" >I</text>
<text class="s" x="76.2" y="88.8" font-size="13.8" font-family="'Liberation Serif', serif" font-weight="bold" font-style="italic" textLength="50.1" lengthAdjust="spacingAndGlyphs">H,incoh</text>
<text class="s" x="90.7" y="175" font-size="25" font-family="'Liberation Serif', serif" font-weight="bold" font-style="italic" >I</text>
<text class="s" x="99.5" y="180.6" font-size="14" font-family="'Liberation Serif', serif" font-weight="bold" font-style="italic" textLength="34.3" lengthAdjust="spacingAndGlyphs">H-Gr</text>
<text class="s" x="53.8" y="250.3" font-size="25" font-family="'Liberation Serif', serif" font-weight="bold" font-style="italic" >I</text>
<text class="s" x="63.3" y="254.3" font-size="13.8" font-family="'Liberation Serif', serif" font-weight="bold" font-style="italic" textLength="51.4" lengthAdjust="spacingAndGlyphs">H,incoh</text>
<text x="121" y="249.5" font-size="26" font-family="'Liberation Serif', serif" style="stroke:none">+</text>
<text class="s" x="140.5" y="250.5" font-size="25" font-family="'Liberation Serif', serif" font-weight="bold" font-style="italic" >I</text>
<text class="s" x="150" y="255.5" font-size="16" font-family="'Liberation Serif', serif" font-weight="bold" font-style="italic" textLength="19.5" lengthAdjust="spacingAndGlyphs">sas</text>
<text class="s" x="401" y="47.5" font-size="25" font-family="'Liberation Serif', serif" font-weight="bold" font-style="italic" >I</text>
<text class="s" x="411.5" y="52" font-size="14" font-family="'Liberation Serif', serif" font-weight="bold" font-style="italic" textLength="34" lengthAdjust="spacingAndGlyphs">H-Gr</text>
<rect x="451.8" y="41.5" width="6.6" height="2.8" fill="#000"/>
<text class="s" x="464.5" y="48" font-size="25" font-family="'Liberation Serif', serif" font-weight="bold" font-style="italic" >I</text>
<text class="s" x="475.2" y="52.7" font-size="13.8" font-family="'Liberation Serif', serif" font-weight="bold" font-style="italic" textLength="50.1" lengthAdjust="spacingAndGlyphs">H,incoh</text>
<text class="s" x="369.5" y="183" font-size="25" font-family="'Liberation Serif', serif" font-weight="bold" font-style="italic" >I</text>
<text class="s" x="378" y="185" font-size="14" font-family="'Liberation Serif', serif" font-weight="bold" font-style="italic" textLength="35" lengthAdjust="spacingAndGlyphs">H-Gr</text>
<rect x="418" y="177.7" width="7" height="3" fill="#000"/>
<text class="s" x="432.5" y="182" font-size="25" font-family="'Liberation Serif', serif" font-weight="bold" font-style="italic" >I</text>
<text class="s" x="442" y="186.0" font-size="13.8" font-family="'Liberation Serif', serif" font-weight="bold" font-style="italic" textLength="52" lengthAdjust="spacingAndGlyphs">H,incoh</text>
<rect x="500" y="175.5" width="7" height="3" fill="#000"/>
<text class="s" x="518.5" y="182" font-size="25" font-family="'Liberation Serif', serif" font-weight="bold" font-style="italic" >I</text>
<text class="s" x="530" y="188" font-size="16" font-family="'Liberation Serif', serif" font-weight="bold" font-style="italic" textLength="18" lengthAdjust="spacingAndGlyphs">sas</text>
<path d="M463.3 114.7H478.7" stroke="#f0141e" stroke-width="1.8"/><path d="M507.5 114.7H522" stroke="#333" stroke-width="1.6"/>
<text x="480" y="118.4" font-size="10.5" font-family="'Liberation Sans', sans-serif" font-weight="bold" text-anchor="start" style="stroke-width:0.2px">XRD</text>
<text x="523.4" y="118.4" font-size="10.5" font-family="'Liberation Sans', sans-serif" font-weight="bold" text-anchor="start" style="stroke-width:0.2px" textLength="61.3" lengthAdjust="spacingAndGlyphs">ND coherent</text>
<path d="M460.7 260.7H476" stroke="#f0141e" stroke-width="1.8"/><path d="M508 260.7H522.4" stroke="#333" stroke-width="1.6"/>
<text x="477.3" y="264.2" font-size="10.5" font-family="'Liberation Sans', sans-serif" font-weight="bold" text-anchor="start" style="stroke-width:0.2px">XRD</text>
<text x="524.6" y="264.2" font-size="10.5" font-family="'Liberation Sans', sans-serif" font-weight="bold" text-anchor="start" style="stroke-width:0.2px" textLength="60.6" lengthAdjust="spacingAndGlyphs">ND coherent</text>
</svg></body></html>
